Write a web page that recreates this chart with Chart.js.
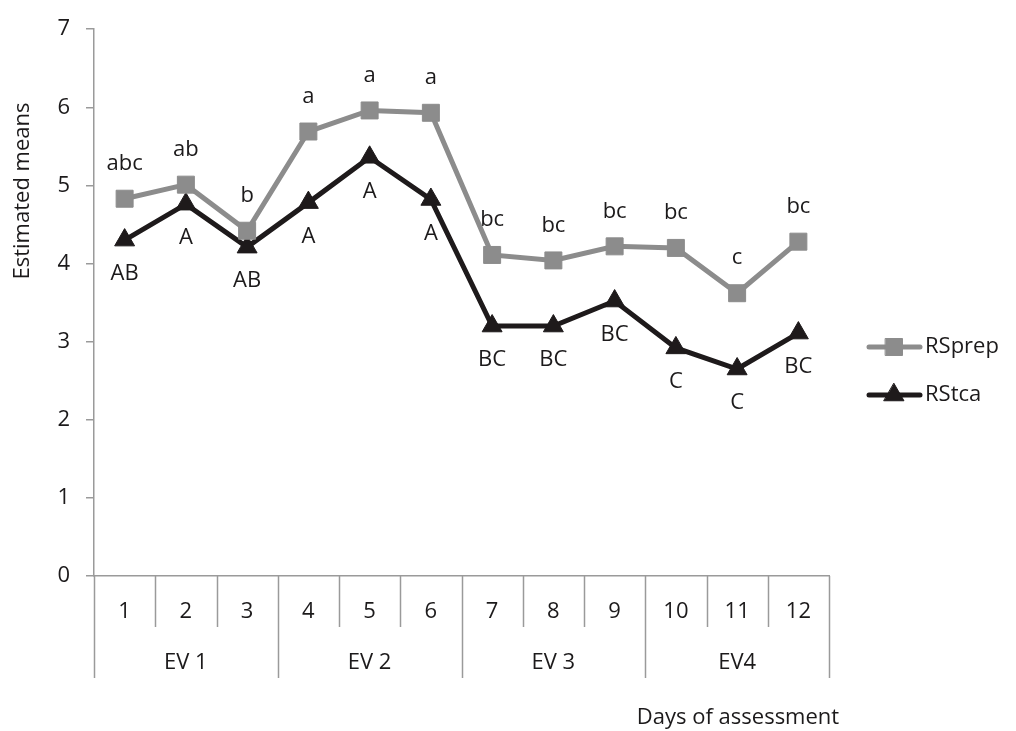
<!DOCTYPE html>
<html>
<head>
<meta charset="utf-8">
<script src="https://cdn.jsdelivr.net/npm/chart.js@4.4.1/dist/chart.umd.min.js"></script>
<style>
  html, body { margin: 0; padding: 0; background: #ffffff; }
  #wrap { width: 1016px; height: 731px; position: relative; }
</style>
</head>
<body>
<div id="wrap"><canvas id="grafico"></canvas></div>
<script>
// dados
const dias = ['1', '2', '3', '4', '5', '6', '7', '8', '9', '10', '11', '12'];
const grupos = ['EV 1', 'EV 2', 'EV 3', 'EV4'];
const diasPorGrupo = 3;
const rsPrep = [4.83, 5.01, 4.42, 5.69, 5.96, 5.93, 4.11, 4.04, 4.22, 4.20, 3.62, 4.28];
const rsTca = [4.30, 4.76, 4.21, 4.78, 5.36, 4.82, 3.20, 3.20, 3.52, 2.92, 2.65, 3.11];
const letrasPrep = ['abc', 'ab', 'b', 'a', 'a', 'a', 'bc', 'bc', 'bc', 'bc', 'c', 'bc'];
const letrasTca = ['AB', 'A', 'AB', 'A', 'A', 'A', 'BC', 'BC', 'BC', 'C', 'C', 'BC'];

const corTexto = '#1c1a1b';
const corEixo = '#9a9a9a';
const corCinza = '#8c8c8c';
const corPreto = '#1e1a1b';
const fonte = '"Open Sans", "Noto Sans", sans-serif';
const tamFonte = 22;

function drawMarcador(ctx, ds, x, y) {
  ctx.lineWidth = 1;
  ctx.fillStyle = ds.pointBackgroundColor;
  ctx.strokeStyle = ds.pointBorderColor;
  Chart.helpers.drawPoint(ctx, { pointStyle: ds.pointStyle, radius: ds.pointRadius, borderWidth: 1 }, x, y);
}

const pluginDesenho = {
  id: 'desenhoExtra',
  afterDatasetsDraw(chart) {
    const ctx = chart.ctx;
    const area = chart.chartArea;
    const xs = chart.scales.x;
    const w = xs.getPixelForValue(1) - xs.getPixelForValue(0);
    ctx.save();
    ctx.font = tamFonte + 'px ' + fonte;
    ctx.fillStyle = corTexto;
    ctx.textAlign = 'center';
    ctx.textBaseline = 'middle';

    // letras sobre os pontos
    const metaPrep = chart.getDatasetMeta(0);
    metaPrep.data.forEach((p, i) => ctx.fillText(letrasPrep[i], p.x, p.y - 35));
    const metaTca = chart.getDatasetMeta(1);
    metaTca.data.forEach((p, i) => ctx.fillText(letrasTca[i], p.x, p.y + 34));

    // divisões do eixo x
    ctx.strokeStyle = corEixo;
    ctx.lineWidth = 1.5;
    for (let k = 0; k <= dias.length; k++) {
      const x = Math.round(xs.getPixelForValue(0) - w / 2 + k * w) + 0.5;
      const fundo = (k % diasPorGrupo === 0) ? 102 : 51;
      ctx.beginPath();
      ctx.moveTo(x, area.bottom);
      ctx.lineTo(x, area.bottom + fundo);
      ctx.stroke();
    }
    dias.forEach((d, i) => ctx.fillText(d, xs.getPixelForValue(i), area.bottom + 36));
    grupos.forEach((g, j) => {
      const meio = xs.getPixelForValue(j * diasPorGrupo + 1);
      ctx.fillText(g, meio, area.bottom + 87);
    });

    // títulos dos eixos
    ctx.fillText('Days of assessment', 738, 718);
    ctx.save();
    ctx.translate(23, 191);
    ctx.rotate(-Math.PI / 2);
    ctx.fillText('Estimated means', 0, 0);
    ctx.restore();

    // legenda
    const itens = [
      { nome: 'RSprep', ds: chart.data.datasets[0], y: 347 },
      { nome: 'RStca', ds: chart.data.datasets[1], y: 395 }
    ];
    itens.forEach(it => {
      ctx.strokeStyle = it.ds.borderColor;
      ctx.lineWidth = it.ds.borderWidth;
      ctx.lineCap = 'round';
      ctx.beginPath();
      ctx.moveTo(869, it.y);
      ctx.lineTo(920, it.y);
      ctx.stroke();
      drawMarcador(ctx, it.ds, 894, it.y);
      ctx.fillStyle = corTexto;
      ctx.textAlign = 'left';
      ctx.fillText(it.nome, 925, it.y);
      ctx.textAlign = 'center';
    });
    ctx.restore();
  }
};

window.addEventListener('DOMContentLoaded', () => {
  const ctxGrafico = document.getElementById('grafico').getContext('2d');
  new Chart(ctxGrafico, {
    type: 'line',
    data: {
      labels: dias,
      datasets: [
        {
          label: 'RSprep', data: rsPrep, borderColor: corCinza, borderWidth: 5,
          pointStyle: 'rect', pointRadius: 12, pointBackgroundColor: corCinza,
          pointBorderColor: corCinza, pointBorderWidth: 1, tension: 0
        },
        {
          label: 'RStca', data: rsTca, borderColor: corPreto, borderWidth: 5,
          pointStyle: 'triangle', pointRadius: 11.5, pointBackgroundColor: corPreto,
          pointBorderColor: corPreto, pointBorderWidth: 1, tension: 0
        }
      ]
    },
    options: {
      responsive: true,
      maintainAspectRatio: false,
      animation: false,
      layout: { padding: { top: 23, right: 187, left: 0, bottom: 0 } },
      plugins: { legend: { display: false }, tooltip: { enabled: false } },
      scales: {
        x: {
          offset: true,
          ticks: { display: false },
          grid: { display: false },
          border: { display: true, color: corEixo, width: 1.5 },
          afterFit: s => { s.height = 155; }
        },
        y: {
          min: 0, max: 7,
          ticks: { stepSize: 1, color: corTexto, font: { size: tamFonte, family: fonte }, padding: 16 },
          grid: { drawOnChartArea: false, drawTicks: true, tickLength: 8, color: corEixo, lineWidth: 1.5 },
          border: { display: true, color: corEixo, width: 1.5 },
          afterFit: s => { s.width = 94; }
        }
      }
    },
    plugins: [pluginDesenho]
  });
});
</script>
</body>
</html>
